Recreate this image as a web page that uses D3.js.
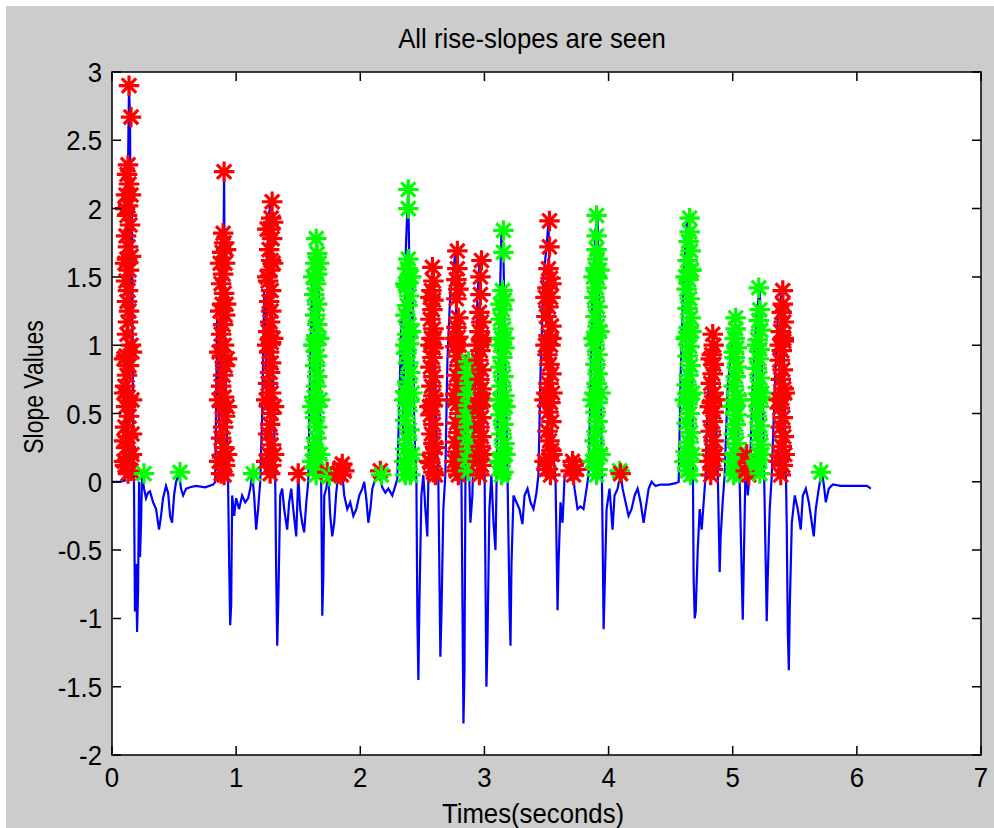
<!DOCTYPE html>
<html>
<head>
<meta charset="utf-8">
<script src="https://cdn.jsdelivr.net/npm/d3@7"></script>
<style>
  body { margin: 0; background: #fff; }
  text { font-family: "Liberation Sans", Arial, sans-serif; fill: #000; }
</style>
</head>
<body>
<svg id="chart" width="994" height="828"></svg>
<script>
// slope signal, [time (s), slope]
var slopeLine = [
  [0,0],[0.065,0],[0.105,0.01],[0.113,0.8],[0.121,0.3],[0.129,2.3],[0.137,2.9],[0.145,2.67],[0.153,1.2],[0.161,2.0],[0.169,0.5],[0.177,0],[0.185,-0.95],[0.194,-0.6],[0.202,-1.1],[0.21,-0.8],[0.218,0],[0.226,-0.55],[0.234,-0.3],[0.242,0.05],[0.258,-0.05],[0.274,-0.12],[0.29,-0.08],[0.306,-0.07],[0.331,-0.15],[0.355,-0.2],[0.379,-0.35],[0.395,-0.25],[0.411,-0.12],[0.435,-0.03],[0.452,-0.08],[0.468,-0.25],[0.484,-0.3],[0.5,-0.1],[0.516,0],[0.54,0.06],[0.556,-0.05],[0.573,-0.1],[0.597,-0.05],[0.629,-0.04],[0.677,-0.03],[0.75,-0.04],[0.815,-0.02],[0.831,0],
  [0.847,1.2],[0.863,0.4],[0.879,1.7],[0.895,1.3],[0.903,2.27],[0.911,0.9],[0.927,0.3],[0.935,0],[0.944,-0.6],[0.952,-1.05],[0.96,-0.9],[0.968,-0.1],[0.984,-0.25],[1.0,-0.12],[1.024,-0.2],[1.048,-0.1],[1.073,-0.15],[1.097,-0.12],[1.113,-0.05],[1.129,0.05],[1.145,-0.1],[1.161,-0.35],[1.177,-0.2],[1.194,0],
  [1.21,0.5],[1.226,1.4],[1.242,0.8],[1.258,1.9],[1.274,2.03],[1.29,1.2],[1.306,0.4],[1.315,0],[1.323,-0.7],[1.331,-1.2],[1.339,-0.9],[1.355,-0.1],[1.371,-0.05],[1.387,-0.2],[1.411,-0.35],[1.427,-0.15],[1.444,-0.05],[1.46,-0.2],[1.484,-0.4],[1.5,0.04],[1.516,-0.2],[1.532,-0.3],[1.548,-0.37],[1.565,-0.15],[1.581,0],
  [1.597,0.9],[1.613,1.5],[1.629,0.6],[1.645,1.75],[1.661,1.6],[1.677,0.5],[1.685,0],[1.694,-0.98],[1.702,-0.7],[1.71,-0.1],[1.726,-0.05],[1.742,0.07],[1.758,-0.25],[1.774,-0.4],[1.79,-0.3],[1.806,-0.08],[1.823,0.05],[1.839,0.1],[1.855,0.06],[1.871,-0.1],[1.895,-0.2],[1.919,-0.15],[1.944,-0.25],[1.968,-0.2],[1.992,-0.1],[2.016,-0.05],[2.032,0],[2.048,-0.12],[2.065,-0.3],[2.081,-0.2],[2.097,-0.05],[2.121,0.02],[2.145,0.06],[2.161,0.05],[2.177,-0.04],[2.202,-0.08],[2.226,-0.05],[2.258,-0.1],[2.282,-0.03],[2.298,0.02],
  [2.315,0.6],[2.331,1.2],[2.347,0.3],[2.363,1.6],[2.379,2.0],[2.387,2.13],[2.403,1.0],[2.419,1.5],[2.435,0.4],[2.452,0],[2.46,-1.0],[2.468,-1.45],[2.476,-0.9],[2.492,-0.1],[2.508,0.05],[2.524,-0.2],[2.54,-0.4],[2.548,0],
  [2.565,0.8],[2.581,1.57],[2.597,1.2],[2.613,0.4],[2.629,0],[2.645,-1.28],[2.653,-1.0],[2.669,-0.2],[2.685,0.05],[2.702,0.9],[2.726,1.4],[2.75,1.55],[2.766,1.68],[2.782,0.6],[2.798,1.2],[2.815,0],[2.831,-1.77],[2.839,-1.4],[2.847,0],[2.863,0.87],[2.871,0.3],[2.887,-0.3],[2.903,-0.1],
  [2.919,0.5],[2.944,1.37],[2.96,1.6],[2.976,0.8],[3.0,0.2],[3.016,-1.5],[3.024,-1.2],[3.04,-0.2],[3.056,0.05],[3.073,-0.3],[3.089,-0.5],[3.105,0.4],[3.121,1.2],[3.137,1.83],[3.153,1.67],[3.169,0.8],[3.185,0.1],[3.202,-0.9],[3.21,-1.2],[3.218,-0.6],[3.234,-0.1],[3.258,-0.15],[3.282,-0.2],[3.306,-0.31],[3.323,-0.1],[3.347,-0.05],[3.371,-0.15],[3.395,-0.2],[3.419,-0.08],[3.435,0.05],
  [3.452,0.8],[3.476,1.5],[3.5,1.72],[3.516,1.9],[3.532,1.0],[3.548,0.3],[3.573,0],[3.589,-0.94],[3.597,-0.6],[3.613,-0.15],[3.629,-0.3],[3.645,0.02],[3.669,0.1],[3.694,0.15],[3.71,0.1],[3.726,-0.05],[3.75,-0.2],[3.774,-0.18],[3.798,-0.2],[3.823,-0.05],[3.839,0.05],
  [3.855,0.7],[3.871,1.4],[3.895,1.85],[3.911,1.93],[3.927,1.2],[3.944,0.2],[3.952,-0.4],[3.96,-1.08],[3.968,-0.8],[3.984,-0.2],[4.008,-0.05],[4.032,-0.35],[4.048,-0.1],[4.073,-0.05],[4.097,0.07],[4.113,-0.05],[4.137,-0.15],[4.161,-0.25],[4.185,-0.2],[4.21,-0.1],[4.234,-0.05],[4.258,-0.15],[4.282,-0.3],[4.298,-0.2],[4.323,-0.05],[4.347,0],[4.379,-0.03],[4.419,-0.02],[4.484,-0.02],[4.54,-0.01],[4.565,0],
  [4.581,0.8],[4.605,1.5],[4.629,1.9],[4.645,1.93],[4.661,1.2],[4.677,0.4],[4.685,-0.7],[4.694,-1.0],[4.702,-0.95],[4.718,-0.5],[4.734,-0.2],[4.75,-0.35],[4.766,-0.15],[4.782,0.05],[4.798,0.6],[4.823,0.9],[4.847,1.05],[4.863,0.5],[4.879,0.1],[4.895,-0.66],[4.903,-0.4],[4.919,-0.15],[4.935,0.05],
  [4.96,0.7],[4.992,1.0],[5.024,1.18],[5.04,0.5],[5.056,0],[5.073,-0.7],[5.081,-1.01],[5.089,-0.6],[5.105,0.2],[5.121,-0.1],[5.137,0.05],[5.161,0.7],[5.194,1.25],[5.218,1.41],[5.234,0.9],[5.25,0.2],[5.266,-0.6],[5.274,-1.02],[5.282,-0.7],[5.298,-0.2],[5.315,0.05],
  [5.339,0.7],[5.363,1.2],[5.387,1.35],[5.403,1.4],[5.419,0.6],[5.435,-0.3],[5.444,-1.1],[5.452,-1.38],[5.46,-0.9],[5.476,-0.3],[5.5,-0.1],[5.524,-0.2],[5.548,-0.35],[5.565,-0.1],[5.589,-0.05],[5.613,-0.15],[5.637,-0.3],[5.653,-0.4],[5.669,-0.2],[5.685,-0.1],[5.702,0],[5.718,0.07],[5.734,-0.02],[5.75,-0.15],[5.774,-0.05],[5.806,-0.02],[5.871,-0.03],[5.952,-0.03],[6.032,-0.03],[6.081,-0.03],[6.113,-0.05]
];

// rise-slope samples marked red
var redMarks = [
  [0.137,2.9],[0.153,2.67],[0.129,2.32],[0.121,2.25],[0.137,2.18],[0.113,2.1],[0.129,2.02],[0.121,1.95],[0.145,1.88],[0.113,1.8],[0.129,1.72],[0.121,1.63],[0.137,1.55],[0.113,1.47],[0.129,1.4],[0.121,1.32],[0.137,1.25],[0.129,1.17],[0.121,1.08],[0.153,1.0],[0.113,0.92],[0.137,0.85],[0.121,0.78],[0.105,0.7],[0.129,0.62],[0.113,0.55],[0.137,0.48],[0.105,0.4],[0.129,0.33],[0.113,0.25],[0.137,0.18],[0.105,0.12],[0.129,0.06],[0.153,0.08],
  [0.097,0.3],[0.161,0.35],[0.097,0.9],[0.161,0.95],[0.105,1.6],[0.153,1.65],[0.105,2.0],[0.153,2.1],[0.097,0.15],[0.161,0.2],[0.161,0.6],[0.097,0.65],
  [0.903,2.27],[0.895,1.82],[0.903,1.75],[0.887,1.68],[0.911,1.6],[0.895,1.52],[0.879,1.45],[0.903,1.38],[0.887,1.3],[0.911,1.22],[0.895,1.15],[0.879,1.08],[0.903,1.0],[0.887,0.92],[0.911,0.85],[0.895,0.78],[0.879,0.7],[0.903,0.62],[0.887,0.55],[0.911,0.48],[0.895,0.4],[0.879,0.32],[0.903,0.25],[0.887,0.18],[0.911,0.12],[0.879,0.06],[0.903,0.05],
  [0.863,0.15],[0.927,0.2],[0.863,0.6],[0.927,0.55],[0.871,1.25],[0.919,1.3],[0.871,1.6],[0.919,1.7],[0.863,0.95],[0.927,0.9],
  [1.29,2.05],[1.282,1.93],[1.274,1.85],[1.29,1.78],[1.266,1.7],[1.282,1.62],[1.274,1.55],[1.258,1.47],[1.282,1.4],[1.266,1.32],[1.282,1.25],[1.274,1.17],[1.258,1.1],[1.282,1.02],[1.266,0.95],[1.282,0.87],[1.274,0.8],[1.258,0.72],[1.282,0.65],[1.266,0.57],[1.282,0.5],[1.274,0.42],[1.258,0.35],[1.282,0.27],[1.266,0.2],[1.282,0.12],[1.274,0.06],
  [1.242,0.15],[1.306,0.2],[1.242,0.6],[1.306,0.55],[1.25,1.0],[1.298,1.05],[1.25,1.5],[1.298,1.6],[1.25,1.85],[1.298,1.9],
  [1.5,0.06],[1.734,0.07],[1.823,0.06],[1.839,0.1],[1.855,0.13],[1.871,0.08],[1.847,0.05],[2.161,0.08],
  [2.581,1.57],[2.589,1.47],[2.573,1.4],[2.589,1.33],[2.581,1.26],[2.565,1.19],[2.589,1.12],[2.573,1.05],[2.589,0.98],[2.581,0.91],[2.565,0.84],[2.589,0.77],[2.573,0.7],[2.589,0.63],[2.581,0.56],[2.565,0.49],[2.589,0.42],[2.573,0.35],[2.589,0.28],[2.581,0.21],[2.565,0.14],[2.589,0.07],[2.605,0.05],
  [2.557,0.15],[2.605,0.25],[2.557,0.55],[2.605,0.6],[2.565,1.0],[2.597,1.05],[2.565,1.35],
  [2.782,1.69],[2.782,1.56],[2.774,1.48],[2.79,1.41],[2.774,1.34],[2.79,1.2],[2.774,1.13],[2.79,1.06],[2.766,0.99],[2.782,0.92],[2.798,0.85],[2.774,0.78],[2.79,0.71],[2.766,0.64],[2.782,0.57],[2.798,0.5],[2.774,0.43],[2.79,0.36],[2.766,0.29],[2.782,0.22],[2.798,0.15],[2.774,0.08],[2.79,0.05],
  [2.758,0.15],[2.806,0.2],[2.758,0.6],[2.806,0.65],[2.766,1.05],[2.798,1.0],
  [2.976,1.62],[2.968,1.5],[2.968,1.37],[2.96,1.24],[2.976,1.17],[2.96,1.1],[2.976,1.03],[2.968,0.96],[2.952,0.89],[2.976,0.82],[2.96,0.75],[2.976,0.68],[2.968,0.61],[2.952,0.54],[2.976,0.47],[2.96,0.4],[2.976,0.33],[2.968,0.26],[2.952,0.19],[2.976,0.12],[2.96,0.05],
  [2.944,0.15],[2.992,0.2],[2.944,0.55],[2.992,0.6],[2.952,1.0],[2.984,1.05],
  [3.524,1.91],[3.524,1.72],[3.516,1.56],[3.532,1.49],[3.508,1.42],[3.532,1.35],[3.516,1.28],[3.5,1.21],[3.54,1.14],[3.516,1.07],[3.532,1.0],[3.508,0.93],[3.524,0.86],[3.54,0.79],[3.516,0.72],[3.5,0.65],[3.532,0.58],[3.516,0.51],[3.54,0.44],[3.508,0.37],[3.524,0.3],[3.54,0.23],[3.516,0.16],[3.5,0.09],[3.532,0.05],
  [3.484,0.15],[3.548,0.2],[3.484,0.6],[3.548,0.65],[3.492,1.0],[3.54,1.05],[3.492,1.35],[3.54,1.45],
  [3.694,0.08],[3.718,0.12],[3.742,0.09],[3.718,0.05],[3.71,0.15],[4.097,0.06],
  [4.839,1.08],[4.847,1.0],[4.831,0.93],[4.847,0.86],[4.839,0.79],[4.823,0.72],[4.847,0.65],[4.831,0.58],[4.847,0.51],[4.839,0.44],[4.823,0.37],[4.847,0.3],[4.831,0.23],[4.847,0.16],[4.839,0.09],[4.823,0.05],
  [4.815,0.15],[4.863,0.2],[4.815,0.55],[4.863,0.6],[4.823,0.9],
  [5.113,0.2],[5.121,0.14],[5.105,0.08],[5.129,0.05],
  [5.403,1.4],[5.403,1.3],[5.395,1.24],[5.411,1.17],[5.387,1.1],[5.411,1.03],[5.395,0.96],[5.379,0.89],[5.403,0.82],[5.387,0.75],[5.411,0.68],[5.395,0.61],[5.379,0.54],[5.403,0.47],[5.387,0.4],[5.411,0.33],[5.395,0.26],[5.379,0.19],[5.403,0.12],[5.387,0.05],
  [5.371,0.15],[5.419,0.2],[5.371,0.6],[5.419,0.65],[5.379,1.0],[5.411,1.05]
];

// rise-slope samples marked green
var greenMarks = [
  [0.258,0.06],[0.548,0.07],[1.137,0.06],
  [1.645,1.78],[1.653,1.67],[1.637,1.6],[1.653,1.52],[1.645,1.45],[1.629,1.37],[1.653,1.3],[1.637,1.22],[1.653,1.15],[1.645,1.07],[1.629,1.0],[1.653,0.92],[1.637,0.85],[1.653,0.77],[1.645,0.7],[1.629,0.62],[1.653,0.55],[1.637,0.47],[1.653,0.4],[1.645,0.32],[1.629,0.25],[1.653,0.17],[1.637,0.1],[1.645,0.05],
  [1.613,0.15],[1.677,0.2],[1.613,0.55],[1.677,0.6],[1.621,1.0],[1.669,1.05],[1.621,1.5],[1.669,1.6],
  [1.75,0.04],[2.169,0.05],
  [2.387,2.14],[2.387,2.0],[2.387,1.63],[2.379,1.56],[2.395,1.5],[2.371,1.43],[2.395,1.36],[2.379,1.29],[2.363,1.22],[2.395,1.15],[2.379,1.08],[2.395,1.01],[2.371,0.94],[2.387,0.87],[2.403,0.8],[2.379,0.73],[2.363,0.66],[2.395,0.59],[2.379,0.52],[2.363,0.45],[2.395,0.38],[2.379,0.31],[2.363,0.24],[2.395,0.17],[2.379,0.1],[2.363,0.05],[2.403,0.05],
  [2.355,0.15],[2.419,0.2],[2.355,0.6],[2.419,0.65],[2.363,1.0],[2.411,1.1],[2.363,1.45],[2.411,1.5],
  [2.871,0.88],[2.863,0.8],[2.879,0.72],[2.863,0.64],[2.871,0.56],[2.855,0.48],[2.871,0.4],[2.863,0.32],[2.879,0.24],[2.863,0.16],[2.871,0.08],
  [3.153,1.84],[3.153,1.68],[3.145,1.4],[3.161,1.33],[3.145,1.26],[3.129,1.19],[3.153,1.12],[3.137,1.05],[3.161,0.98],[3.145,0.91],[3.129,0.84],[3.153,0.77],[3.137,0.7],[3.161,0.63],[3.145,0.56],[3.129,0.49],[3.153,0.42],[3.137,0.35],[3.161,0.28],[3.145,0.21],[3.129,0.14],[3.153,0.07],[3.137,0.05],
  [3.121,0.15],[3.169,0.2],[3.121,0.6],[3.169,0.55],[3.129,1.0],[3.161,1.05],[3.129,1.3],
  [3.903,1.95],[3.903,1.8],[3.903,1.7],[3.911,1.63],[3.895,1.56],[3.911,1.49],[3.903,1.42],[3.887,1.35],[3.911,1.28],[3.895,1.21],[3.911,1.14],[3.903,1.07],[3.887,1.0],[3.911,0.93],[3.895,0.86],[3.911,0.79],[3.903,0.72],[3.887,0.65],[3.911,0.58],[3.895,0.51],[3.911,0.44],[3.903,0.37],[3.887,0.3],[3.911,0.23],[3.895,0.16],[3.911,0.09],[3.903,0.05],
  [3.871,0.15],[3.935,0.2],[3.871,0.6],[3.935,0.65],[3.879,1.05],[3.927,1.1],[3.879,1.5],[3.927,1.55],
  [4.089,0.08],
  [4.653,1.93],[4.653,1.83],[4.645,1.76],[4.661,1.69],[4.637,1.62],[4.661,1.55],[4.645,1.48],[4.629,1.41],[4.653,1.34],[4.637,1.27],[4.661,1.2],[4.645,1.13],[4.629,1.06],[4.653,0.99],[4.637,0.92],[4.661,0.85],[4.645,0.78],[4.629,0.71],[4.661,0.64],[4.637,0.57],[4.653,0.5],[4.629,0.43],[4.661,0.36],[4.645,0.29],[4.621,0.22],[4.653,0.15],[4.637,0.08],[4.661,0.05],
  [4.613,0.15],[4.677,0.2],[4.613,0.6],[4.677,0.65],[4.621,1.05],[4.669,1.1],[4.621,1.5],[4.669,1.55],
  [5.024,1.2],[5.024,1.12],[5.016,1.05],[5.032,0.98],[5.016,0.91],[5.032,0.84],[5.024,0.77],[5.008,0.7],[5.032,0.63],[5.016,0.56],[5.032,0.49],[5.024,0.42],[5.008,0.35],[5.032,0.28],[5.016,0.21],[5.032,0.14],[5.024,0.07],[5.008,0.05],
  [5.0,0.15],[5.048,0.2],[5.0,0.55],[5.048,0.6],[5.008,0.95],
  [5.21,1.42],[5.218,1.26],[5.21,1.18],[5.226,1.11],[5.202,1.04],[5.218,0.97],[5.21,0.9],[5.194,0.83],[5.218,0.76],[5.202,0.69],[5.226,0.62],[5.21,0.55],[5.194,0.48],[5.218,0.41],[5.202,0.34],[5.226,0.27],[5.21,0.2],[5.194,0.13],[5.218,0.06],
  [5.186,0.15],[5.234,0.2],[5.186,0.6],[5.234,0.65],[5.194,1.0],
  [5.71,0.07]
];

var xTicks = [0, 1, 2, 3, 4, 5, 6, 7];
var yTicks = [-2, -1.5, -1, -0.5, 0, 0.5, 1, 1.5, 2, 2.5, 3];

var svg = d3.select("#chart");

var axL = 112, axR = 981, axT = 72, axB = 755;
var tickLen = 9;
var fontSize = 28, squeeze = 0.92;

var x = d3.scaleLinear().domain([0, 7]).range([axL, axR]);
var y = d3.scaleLinear().domain([-2, 3]).range([axB, axT]);

// figure background
svg.append("rect")
  .attr("x", 6).attr("y", 6)
  .attr("width", 988).attr("height", 822)
  .attr("fill", "#cccccc");

svg.append("rect")
  .attr("x", axL).attr("y", axT)
  .attr("width", axR - axL).attr("height", axB - axT)
  .attr("fill", "#fff");

svg.append("clipPath").attr("id", "plotclip")
  .append("rect")
  .attr("x", axL).attr("y", axT)
  .attr("width", axR - axL).attr("height", axB - axT);

var plot = svg.append("g").attr("clip-path", "url(#plotclip)");

var line = d3.line()
  .x(function(d) { return x(d[0]); })
  .y(function(d) { return y(d[1]); });

plot.append("path")
  .datum(slopeLine)
  .attr("d", line)
  .attr("fill", "none")
  .attr("stroke", "#0000ff")
  .attr("stroke-width", 2.2);

// matlab style '*' marker: plus and cross overlaid
var asterisk = {
  draw: function(ctx, size) {
    var r = Math.sqrt(size) / 2, d = r * 0.7;
    ctx.moveTo(-r, 0); ctx.lineTo(r, 0);
    ctx.moveTo(0, -r); ctx.lineTo(0, r);
    ctx.moveTo(-d, -d); ctx.lineTo(d, d);
    ctx.moveTo(-d, d); ctx.lineTo(d, -d);
  }
};
var star = d3.symbol().type(asterisk).size(420);

var marks = redMarks.map(function(d) { return {t: d[0], v: d[1], c: "#ff0000"}; })
  .concat(greenMarks.map(function(d) { return {t: d[0], v: d[1], c: "#00ff00"}; }));
marks.sort(function(a, b) { return a.t - b.t; });

plot.append("g")
  .selectAll("path")
  .data(marks)
  .enter().append("path")
    .attr("d", star)
    .attr("transform", function(d) { return "translate(" + x(d.t) + "," + y(d.v) + ")"; })
    .attr("fill", "none")
    .attr("stroke", function(d) { return d.c; })
    .attr("stroke-width", 3.2);

// axes box and inward ticks on all sides
var axes = svg.append("g").attr("stroke", "#000").attr("stroke-width", 1.5);

axes.append("rect")
  .attr("x", axL).attr("y", axT)
  .attr("width", axR - axL).attr("height", axB - axT)
  .attr("fill", "none");

axes.selectAll(".xt").data(xTicks).enter().append("path")
  .attr("d", function(d) {
    var px = x(d);
    return "M" + px + "," + axB + "v" + (-tickLen) + "M" + px + "," + axT + "v" + tickLen;
  });

axes.selectAll(".yt").data(yTicks).enter().append("path")
  .attr("d", function(d) {
    var py = y(d);
    return "M" + axL + "," + py + "h" + tickLen + "M" + axR + "," + py + "h" + (-tickLen);
  });

function label(px, py, txt, anchor, rotate, sx) {
  var t = "translate(" + px + "," + py + ")" + (rotate ? " rotate(" + rotate + ")" : "") + " scale(" + (sx || squeeze) + ",1)";
  return svg.append("text")
    .attr("transform", t)
    .attr("text-anchor", anchor)
    .style("font-size", fontSize + "px")
    .text(txt);
}

xTicks.forEach(function(d) { label(x(d), 787, String(d), "middle"); });
yTicks.forEach(function(d) { label(102, y(d) + 10, String(d), "end"); });

label(532, 48, "All rise-slopes are seen", "middle");
label(533, 823, "Times(seconds)", "middle");
label(43, 387, "Slope Values", "middle", -90, 0.82);
</script>
</body>
</html>
